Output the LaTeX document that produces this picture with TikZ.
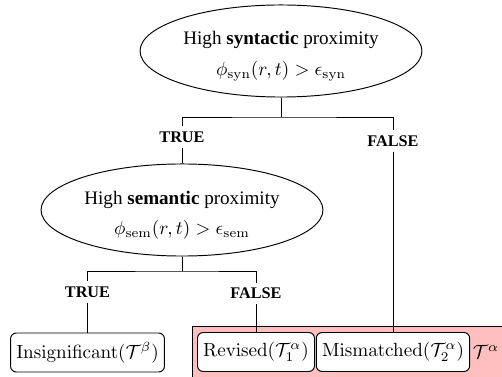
\documentclass[tikz,border=0pt]{standalone}
\usepackage[no-math]{fontspec}
\setmainfont{Liberation Serif}
\usetikzlibrary{shapes.geometric}
\begin{document}
\begin{tikzpicture}[x=0.5236pt,y=-0.5236pt, line width=0.5pt,
  cond/.style={ellipse, draw, minimum width=147.6pt, minimum height=48.2pt, align=center, inner sep=0pt},
  lbl/.style={font=\fontsize{8.5}{10}\selectfont\bfseries, inner sep=2.5pt},
  leaf/.style={draw, fill=white, rounded corners=3pt, inner xsep=3pt, minimum height=20.4pt},
  region/.style={draw, fill=red!25}
]
\useasboundingbox (0,0) rectangle (502,377);
\draw[region] (192,326) rectangle (515,390);
\node[cond] (syn) at (281,51) {\rule{0pt}{12.5pt}High \textbf{syntactic} proximity\\[4pt] $\phi_{\mathrm{syn}}(r,t) > \epsilon_{\mathrm{syn}}$};
\node[cond] (sem) at (182,210) {\rule{0pt}{12.5pt}High \textbf{semantic} proximity\\[4pt] $\phi_{\mathrm{sem}}(r,t) > \epsilon_{\mathrm{sem}}$};
\node[lbl] (t1) at (182,137) {TRUE};
\node[lbl] (f1) at (393,141) {FALSE};
\node[lbl] (t2) at (87.5,292) {TRUE};
\node[lbl] (f2) at (256,293.5) {FALSE};
\node[leaf] (ins) at (87.5,352.5) {$\mathrm{Insignificant}(\mathcal{T}^\beta)$};
\node[leaf] (rev) at (256,352) {$\mathrm{Revised}(\mathcal{T}_1^\alpha)$};
\node[leaf] (mis) at (393,352) {$\mathrm{Mismatched}(\mathcal{T}_2^\alpha)$};
\node (ta) at (486,352) {$\mathcal{T}^\alpha$};
\coordinate (j1) at (281,117);
\coordinate (j2) at (182,271);
\draw (syn.south) -- (j1);
\draw (t1.north) |- (j1) -| (f1.north);
\draw (t1.south) -- (sem.north);
\draw (f1.south) -- (mis.north);
\draw (sem.south) -- (j2);
\draw (t2.north) |- (j2) -| (f2.north);
\draw (t2.south) -- (ins.north);
\draw (f2.south) -- (rev.north);
\end{tikzpicture}
\end{document}
